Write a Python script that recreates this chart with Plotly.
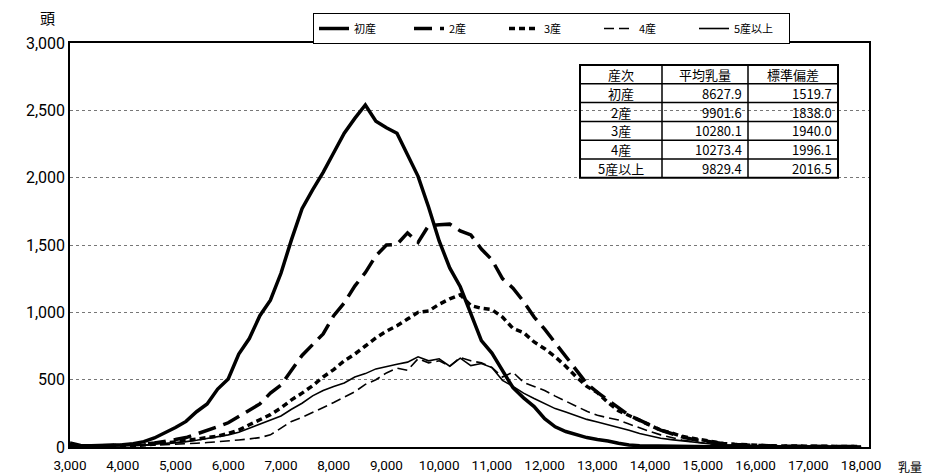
import plotly.graph_objects as go

# ---------------- data ----------------
milk_kg = list(range(3000, 18001, 200))

primi = [30, 12, 10, 10, 12, 16, 25, 40, 67, 105,
         145, 190, 262, 320, 430, 505, 690, 805, 975, 1090,
         1290, 1540, 1770, 1910, 2040, 2185, 2330, 2440, 2540, 2420,
         2370, 2330, 2170, 2010, 1780, 1530, 1330, 1190, 990, 790,
         697, 570, 440, 365, 300, 210, 150, 115, 90, 70,
         55, 45, 28, 15, 10, 8, 6, 5, 4, 3,
         3, 2, 2, 2, 1, 1, 1, 1, 1, 0,
         0, 0, 0, 0, 0, 0]

parity2 = [10, 8, 8, 10, 12, 14, 18, 22, 30, 40,
           55, 70, 95, 120, 150, 180, 225, 270, 320, 400,
           460, 570, 680, 760, 840, 975, 1070, 1195, 1295, 1420,
           1500, 1505, 1590, 1520, 1645, 1650, 1655, 1605, 1575, 1470,
           1390, 1250, 1180, 1080, 965, 875, 775, 670, 570, 470,
           405, 350, 290, 235, 200, 160, 125, 100, 75, 57,
           45, 32, 25, 18, 14, 10, 8, 7, 6, 5,
           4, 4, 3, 3, 3, 3]

parity3 = [15, 8, 8, 8, 10, 10, 12, 15, 20, 28,
           38, 48, 58, 70, 80, 100, 125, 165, 200, 240,
           290, 350, 400, 455, 520, 575, 640, 690, 750, 810,
           860, 900, 950, 1000, 1010, 1060, 1100, 1130, 1050, 1030,
           1020, 965, 880, 850, 780, 730, 670, 600, 520, 450,
           405, 330, 270, 235, 195, 160, 125, 105, 80, 65,
           50, 35, 25, 20, 15, 12, 10, 8, 7, 6,
           5, 5, 4, 4, 3, 3]

parity4 = [10, 5, 5, 5, 6, 8, 10, 12, 15, 18,
           20, 24, 28, 33, 38, 45, 52, 60, 70, 90,
           140, 190, 220, 255, 295, 330, 370, 410, 465, 500,
           550, 585, 570, 655, 625, 640, 600, 665, 640, 625,
           590, 520, 555, 480, 450, 420, 378, 340, 300, 265,
           235, 215, 200, 170, 140, 115, 90, 70, 52, 40,
           28, 20, 15, 12, 10, 8, 7, 6, 5, 5,
           4, 4, 3, 3, 3, 3]

parity5 = [12, 6, 6, 7, 8, 10, 12, 15, 20, 25,
           32, 40, 50, 62, 75, 90, 110, 140, 170, 205,
           230, 280, 325, 380, 420, 450, 475, 520, 545, 580,
           600, 615, 630, 670, 640, 655, 600, 660, 605, 620,
           590, 495, 450, 400, 360, 325, 285, 260, 230, 205,
           185, 165, 150, 125, 100, 80, 65, 55, 45, 35,
           27, 20, 16, 13, 10, 8, 7, 6, 5, 5,
           4, 4, 3, 3, 3, 3]

series_names = ["初産", "2産", "3産", "4産", "5産以上"]

table_header = ["産次", "平均乳量", "標準偏差"]
table_parity = ["初産", "2産", "3産", "4産", "5産以上"]
table_mean = ["8627.9", "9901.6", "10280.1", "10273.4", "9829.4"]
table_sd = ["1519.7", "1838.0", "1940.0", "1996.1", "2016.5"]

x_ticks = list(range(3000, 18001, 1000))
y_ticks = [0, 500, 1000, 1500, 2000, 2500, 3000]

# ---------------- figure ----------------
W, H = 927, 475
L, R, T, B = 70, 58, 43, 28
PW, PH = W - L - R, H - T - B

def xp(px):
    return (px - L) / PW

def yp(py):
    return (H - B - py) / PH

JP = "Noto Sans CJK JP"
styles = [
    dict(width=3.5, dash="solid"),
    dict(width=3.5, dash="18px,8px"),
    dict(width=3.5, dash="6px,4px"),
    dict(width=1.6, dash="10px,5px"),
    dict(width=1.6, dash="solid"),
]
all_series = [primi, parity2, parity3, parity4, parity5]

fig = go.Figure()
for name, vals, st in zip(series_names, all_series, styles):
    fig.add_trace(go.Scatter(
        x=milk_kg, y=vals, mode="lines", name=name,
        line=dict(color="black", width=st["width"], dash=st["dash"]),
    ))

# ---- table drawn with shapes + annotations ----
col_px = [580, 662, 748, 838]
row_top, row_h = 65, 18.8
n_rows = 1 + len(table_parity)
shapes = []
shapes.append(dict(type="rect", xref="paper", yref="paper",
                   x0=xp(col_px[0]), x1=xp(col_px[-1]),
                   y0=yp(row_top), y1=yp(row_top + n_rows * row_h),
                   line=dict(color="black", width=2)))
for i in range(1, n_rows):
    shapes.append(dict(type="line", xref="paper", yref="paper",
                       x0=xp(col_px[0]), x1=xp(col_px[-1]),
                       y0=yp(row_top + i * row_h), y1=yp(row_top + i * row_h),
                       line=dict(color="black", width=1.5)))
for cx in col_px[1:-1]:
    shapes.append(dict(type="line", xref="paper", yref="paper",
                       x0=xp(cx), x1=xp(cx),
                       y0=yp(row_top), y1=yp(row_top + n_rows * row_h),
                       line=dict(color="black", width=1.5)))

annotations = []
rows = [table_header] + [list(r) for r in zip(table_parity, table_mean, table_sd)]
for ri, row in enumerate(rows):
    cy = yp(row_top + (ri + 0.5) * row_h)
    for ci, txt in enumerate(row):
        if ri == 0 or ci == 0:
            ax, xa = xp((col_px[ci] + col_px[ci + 1]) / 2), "center"
        else:
            ax, xa = xp(col_px[ci + 1] - 4), "right"
        annotations.append(dict(text=txt, x=ax, y=cy, xref="paper", yref="paper",
                                xanchor=xa, yanchor="middle", showarrow=False,
                                font=dict(family=JP, size=13, color="black")))

annotations.append(dict(text="頭", x=xp(47), y=yp(18), xref="paper", yref="paper",
                        xanchor="center", yanchor="middle", showarrow=False,
                        font=dict(family=JP, size=15, color="black")))
annotations.append(dict(text="乳量", x=xp(924), y=yp(466), xref="paper", yref="paper",
                        xanchor="right", yanchor="middle", showarrow=False,
                        font=dict(family=JP, size=12, color="black")))

fig.update_layout(
    width=W, height=H,
    margin=dict(l=L, r=R, t=T, b=B),
    paper_bgcolor="white", plot_bgcolor="white",
    showlegend=True,
    legend=dict(orientation="h", x=xp(313), y=yp(13), xanchor="left", yanchor="top",
                bordercolor="black", borderwidth=1, bgcolor="white",
                font=dict(family=JP, size=11, color="black"),
                entrywidth=50, tracegroupgap=0),
    shapes=shapes, annotations=annotations,
    font=dict(family="Roboto", color="black"),
)
fig.update_xaxes(range=[3000, 18150], tickvals=x_ticks, tickformat=",",
                 showgrid=False, zeroline=False, showline=True, linecolor="black",
                 linewidth=1.5, mirror=True, ticks="", ticklabelstandoff=5,
                 automargin=False,
                 tickfont=dict(family="Roboto", size=13.5, color="black"))
fig.update_yaxes(range=[0, 3000], tickvals=y_ticks, tickformat=",",
                 showgrid=True, gridcolor="#777777", griddash="3px,3px", gridwidth=1,
                 zeroline=False, showline=True, linecolor="black", linewidth=1.5,
                 mirror=True, ticks="", automargin=False,
                 tickfont=dict(family="Roboto", size=16, color="black"))

fig.write_html("out.html", config={"displayModeBar": False},
               post_script="document.body.style.margin='0';document.body.style.padding='0';")
